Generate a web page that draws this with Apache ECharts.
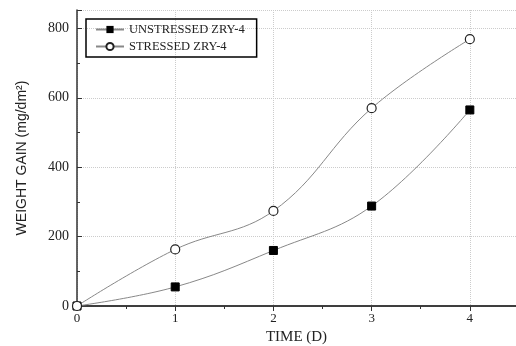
<!DOCTYPE html>
<html><head><meta charset="utf-8">
<script src="https://cdn.jsdelivr.net/npm/echarts@6/dist/echarts.min.js"></script>
<style>html,body{margin:0;padding:0;background:#fff}#c{width:516px;height:346px}</style>
</head><body><div id="c"></div>
<script>
const days = [0, 1, 2, 3, 4];
const unstressed = [0, 55, 160, 288, 565];
const stressed = [0, 163, 274, 570, 769];
const xTicks = ['0', '1', '2', '3', '4'];
const yTicks = ['0', '200', '400', '600', '800'];
const seriesNames = ['UNSTRESSED ZRY-4', 'STRESSED ZRY-4'];

const serif = 'Liberation Serif';
const chart = echarts.init(document.getElementById('c'), null, {renderer: 'canvas'});
chart.setOption({
  animation: false,
  backgroundColor: '#fff',
  grid: {left: 77, right: 0, top: 10, bottom: 40, show: false, containLabel: false, outerBoundsMode: 'none'},
  legend: {
    left: 86, top: 19, width: 172, orient: 'vertical', itemGap: 4,
    padding: [4, 12, 4, 9], borderColor: '#000', borderWidth: 1.5,
    itemWidth: 28, itemHeight: 9,
    textStyle: {fontFamily: serif, fontSize: 12.5, color: '#222'},
    data: seriesNames
  },
  xAxis: [{
    type: 'value', min: 0, max: 4.47, interval: 1,
    axisLine: {show: true, onZero: false, lineStyle: {color: '#333', width: 1.5}},
    axisTick: {show: true, inside: false, length: 5, lineStyle: {color: '#333'}},
    minorTick: {show: true, splitNumber: 2, length: 3, lineStyle: {color: '#333'}},
    splitLine: {show: true, lineStyle: {color: '#ccc', type: 'dotted'}},
    axisLabel: {fontFamily: serif, fontSize: 13, color: '#222', margin: 6,
      formatter: v => xTicks[v] !== undefined ? xTicks[v] : ''},
    name: 'TIME (D)', nameLocation: 'middle', nameGap: 24,
    nameTextStyle: {fontFamily: serif, fontSize: 15, color: '#222'}
  }, {
    type: 'value', min: 0, max: 4.47, interval: 1, position: 'top',
    axisLine: {show: true, lineStyle: {color: '#333', width: 1.5}},
    axisTick: {show: true, inside: true, length: 4, lineStyle: {color: '#333'}},
    minorTick: {show: true, splitNumber: 2, length: 2, lineStyle: {color: '#333'}},
    splitLine: {show: false}, axisLabel: {show: false}
  }],
  yAxis: {
    type: 'value', min: 0, max: 853, interval: 200,
    axisLine: {show: true, onZero: false, lineStyle: {color: '#333', width: 1.5}},
    axisTick: {show: true, inside: true, length: 5, lineStyle: {color: '#333'}},
    minorTick: {show: true, splitNumber: 2, length: 3, lineStyle: {color: '#333'}},
    splitLine: {show: true, lineStyle: {color: '#ccc', type: 'dotted'}},
    axisLabel: {fontFamily: serif, fontSize: 14, color: '#222', margin: 8,
      formatter: v => { const i = v / 200; return yTicks[i] !== undefined ? yTicks[i] : ''; }},
    name: 'WEIGHT GAIN (mg/dm\u00B2)', nameLocation: 'middle', nameGap: 48,
    nameTextStyle: {fontFamily: 'Liberation Sans', fontSize: 14, color: '#222'}
  },
  series: [{
    name: seriesNames[0], type: 'line', smooth: 0.4,
    data: days.map((d, i) => [d, unstressed[i]]),
    symbol: 'rect', symbolSize: 8,
    itemStyle: {color: '#000', borderColor: '#000'},
    lineStyle: {color: '#888', width: 1}
  }, {
    name: seriesNames[1], type: 'line', smooth: 0.4,
    data: days.map((d, i) => [d, stressed[i]]),
    symbol: 'circle', symbolSize: 9, z: 3,
    itemStyle: {color: '#fff', borderColor: '#222', borderWidth: 1.2},
    lineStyle: {color: '#888', width: 1}
  }]
});
</script></body></html>
